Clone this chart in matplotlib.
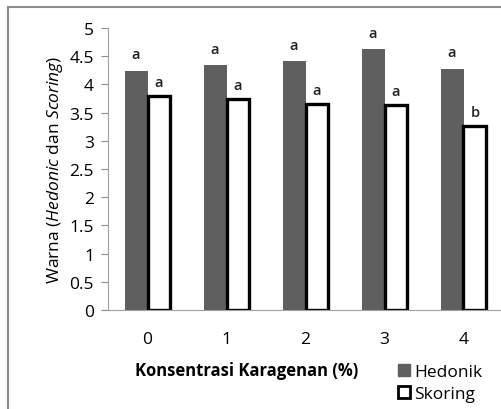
import numpy as np
import matplotlib.pyplot as plt
from matplotlib.patches import Rectangle, Patch

plt.rcParams['font.family'] = ['Open Sans', 'DejaVu Sans']
plt.rcParams['mathtext.fontset'] = 'custom'
plt.rcParams['mathtext.it'] = 'Open Sans:italic'
plt.rcParams['mathtext.rm'] = 'Open Sans'

konsentrasi = ['0', '1', '2', '3', '4']
hedonik = [4.24, 4.34, 4.41, 4.62, 4.27]
skoring = [3.79, 3.74, 3.65, 3.63, 3.26]
notasi_hedonik = ['a', 'a', 'a', 'a', 'a']
notasi_skoring = ['a', 'a', 'a', 'a', 'b']

fig = plt.figure(figsize=(5.02, 4.10), dpi=100)
ax = fig.add_axes([108 / 502, 99 / 410, 395 / 502, 282 / 410])

# outer chart border
fig.patches.append(Rectangle((8 / 502, -0.05), 1.2, (410 - 8) / 410 + 0.05,
                             transform=fig.transFigure, fill=False,
                             edgecolor='#8c8c8c', linewidth=1.5))

x = np.arange(len(konsentrasi))
w = 0.29
ax.bar(x - w / 2, hedonik, w, color='#5f5f5f', label='Hedonik')
ax.bar(x + w / 2, skoring, w, color='white', edgecolor='black', linewidth=2.4,
       label='Skoring')

for i in range(len(x)):
    ax.annotate(notasi_hedonik[i], (x[i] - w / 2, hedonik[i]), xytext=(0, 7),
                textcoords='offset points', ha='center', va='bottom',
                fontsize=10.5, fontweight='semibold', color='#222222')
    ax.annotate(notasi_skoring[i], (x[i] + w / 2, skoring[i]), xytext=(0, 5),
                textcoords='offset points', ha='center', va='bottom',
                fontsize=10.5, fontweight='semibold', color='#222222')

ax.set_xlim(-0.5, 4.5)
ax.set_ylim(0, 5)
ax.set_yticks(np.arange(0, 5.01, 0.5))
ax.set_yticklabels(['0', '0.5', '1', '1.5', '2', '2.5', '3', '3.5', '4', '4.5', '5'])
ax.set_xticks(x)
ax.set_xticklabels(konsentrasi)
ax.tick_params(axis='y', length=5, color='#8c8c8c', labelsize=12.5, pad=5)
ax.tick_params(axis='x', length=0, labelsize=12.5, pad=15)
for s in ['top', 'right']:
    ax.spines[s].set_visible(False)
ax.spines['left'].set_color('#a0a0a0')
ax.spines['bottom'].set_color('#a0a0a0')

ax.set_ylabel('Warna ($\\it{Hedonic}$ dan $\\it{Scoring}$)', fontsize=12.5, labelpad=3)
fig.text(247 / 502, 1 - 371 / 410, 'Konsentrasi Karagenan (%)', ha='center',
         va='center', fontsize=12, fontweight='bold')

handles = [Patch(facecolor='#5f5f5f', edgecolor='#5f5f5f'),
           Patch(facecolor='white', edgecolor='black', linewidth=2)]
fig.legend(handles, ['Hedonik', 'Skoring'], loc='center left',
           bbox_to_anchor=(389 / 502, 1 - 384 / 410), frameon=False,
           fontsize=12.5, handlelength=0.7, handleheight=0.7,
           handletextpad=0.25, labelspacing=0.3, borderpad=0)

fig.savefig('out.png', dpi=100)
